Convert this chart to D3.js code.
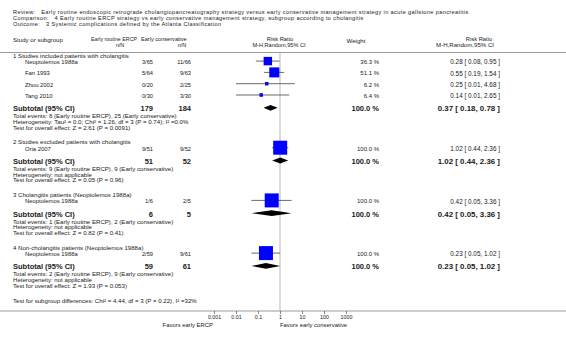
<!DOCTYPE html>
<html><head><meta charset="utf-8">
<script src="https://cdn.jsdelivr.net/npm/d3@7"></script>
<style>
html,body{margin:0;padding:0;background:#fff;}
svg{display:block;font-family:"Liberation Sans",Arial,sans-serif;}
</style></head>
<body><svg id="c" width="566" height="337"></svg>
<script>
// ---------- data ----------
const titleLines = [
  "Review:   Early routine endoscopic retrograde cholangiopancreatography strategy versus early conservative management strategy in acute gallstone pancreatitis",
  "Comparison:   4 Early routine ERCP strategy vs early conservative management strategy, subgroup according to cholangitis",
  "Outcome:   3 Systemic complications defined by the Atlanta Classification"
];
const subgroupTitles = [
  "1 Studies included patients with cholangitis",
  "2 Studies excluded patients with cholangitis",
  "3 Cholangitis patients (Neoptolemos 1988a)",
  "4 Non-cholangitis patients (Neoptolemos 1988a)"
];
const studyNames   = ["Neoptolemos 1988a","Fan 1993","Zhou 2002","Tang 2010","Oria 2007","Neoptolemos 1988a","Neoptolemos 1988a"];
const studyGroup   = [0,0,0,0,1,2,3];
const ercpEvents   = [3,5,0,0,9,1,2];
const ercpTotal    = [65,64,20,30,51,6,59];
const consEvents   = [11,9,2,3,9,2,9];
const consTotal    = [66,63,25,30,52,5,61];
const studyWeight  = [36.3,51.1,6.2,6.4,100.0,100.0,100.0];
const studyRR      = [0.28,0.55,0.25,0.14,1.02,0.42,0.23];
const studyLo      = [0.08,0.19,0.01,0.01,0.44,0.05,0.05];
const studyHi      = [0.95,1.54,4.68,2.65,2.36,3.36,1.02];

const subTotalERCP = [179,51,6,59];
const subTotalCons = [184,52,5,61];
const subRR        = [0.37,1.02,0.42,0.23];
const subLo        = [0.18,0.44,0.05,0.05];
const subHi        = [0.78,2.36,3.36,1.02];
const subEvents = [
  "Total events: 8 (Early routine ERCP), 25 (Early conservative)",
  "Total events: 9 (Early routine ERCP), 9 (Early conservative)",
  "Total events: 1 (Early routine ERCP), 2 (Early conservative)",
  "Total events: 2 (Early routine ERCP), 9 (Early conservative)"
];
const subHetero = [
  "Heterogeneity: Tau² = 0.0; Chi² = 1.26, df = 3 (P = 0.74); I² =0.0%",
  "Heterogeneity: not applicable",
  "Heterogeneity: not applicable",
  "Heterogeneity: not applicable"
];
const subOverall = [
  "Test for overall effect: Z = 2.61 (P = 0.0091)",
  "Test for overall effect: Z = 0.05 (P = 0.96)",
  "Test for overall effect: Z = 0.82 (P = 0.41)",
  "Test for overall effect: Z = 1.93 (P = 0.053)"
];
const subgroupDiff = "Test for subgroup differences: Chi² = 4.44, df = 3 (P = 0.22), I² =32%";
const tickValues = [0.001,0.01,0.1,1,10,100,1000];
const favorsLeft = "Favors early ERCP";
const favorsRight = "Favors early conservative";

// ---------- layout ----------
const svg = d3.select("#c");
const W = 566;
const x = d3.scaleLog().domain([0.001,1000]).range([214,346]);
const size = d3.scaleSqrt().domain([0,100]).range([0,14]);
const ink = "#1a1a1a";
const FS = 6.1;   // small text
const FB = 7.5;   // bold subtotal text

const rows = [];
let yy = 55.3;
subgroupTitles.forEach((t,g)=>{
  rows.push({type:"head",g,y:yy});
  yy += 6.6;
  const idx = studyNames.map((_,i)=>i).filter(i=>studyGroup[i]===g);
  idx.forEach((i,k)=>{ if(k>0) yy+=11.3; rows.push({type:"study",i,y:yy}); });
  yy += 12.8;
  rows.push({type:"sub",g,y:yy});
  yy += 7.2; rows.push({type:"line",text:subEvents[g],y:yy});
  yy += 5.7; rows.push({type:"line",text:subHetero[g],y:yy});
  yy += 5.7; rows.push({type:"line",text:subOverall[g],y:yy});
  yy += 14.7;
});
rows.push({type:"line",text:subgroupDiff,y:yy});
const axisY = 311;

function txt(xp,y,s,opt={}){
  return svg.append("text").attr("x",xp).attr("y",y).attr("dominant-baseline","central")
    .attr("font-size",opt.size||FS).attr("font-weight",opt.bold?"bold":"normal")
    .attr("text-anchor",opt.anchor||"start").attr("fill",ink).text(s);
}

// titles
titleLines.forEach((t,i)=>txt(13,[11.8,17.8,23.8][i],t,{size:5.6})
  .attr("letter-spacing",0.37).style("white-space","pre"));

// headers
txt(13,39.3,"Study or subgroup",{size:6.1});
txt(137,39.3,"Early routine ERCP",{size:5.3,anchor:"end"});
txt(141,39.3,"Early conservative",{size:5.6});
txt(120,44.5,"n/N",{size:5.6,anchor:"middle"});
txt(182,44.5,"n/N",{size:5.6,anchor:"middle"});
txt(280,39.3,"Risk Ratio",{size:5.8,anchor:"middle"});
txt(279,44.5,"M-H,Random,95% CI",{size:5.6,anchor:"middle"});
txt(356,40,"Weight",{size:6.1,anchor:"middle"});
txt(479,39.3,"Risk Ratio",{size:5.8,anchor:"middle"});
txt(494,44.5,"M-H,Random,95% CI",{size:6.1,anchor:"end"});

svg.append("line").attr("x1",0).attr("x2",W).attr("y1",52.5).attr("y2",52.5).attr("stroke","#9a9a9a").attr("stroke-width",1);

// null line
svg.append("line").attr("x1",x(1)).attr("x2",x(1)).attr("y1",53).attr("y2",axisY)
  .attr("stroke","#cfcfcf").attr("stroke-width",1.5);

const f2 = d3.format(".2f");
const ciText = (r,l,h)=>`${f2(r)} [ ${f2(l)}, ${f2(h)} ]`;

rows.forEach(r=>{
  if(r.type==="head"){
    txt(13,r.y,subgroupTitles[r.g]);
  } else if(r.type==="study"){
    const i=r.i;
    txt(25,r.y,studyNames[i],{size:5.9});
    txt(153,r.y,`${ercpEvents[i]}/${ercpTotal[i]}`,{size:5.7,anchor:"end"});
    txt(191,r.y,`${consEvents[i]}/${consTotal[i]}`,{size:5.7,anchor:"end"});
    txt(379,r.y,`${studyWeight[i].toFixed(1)} %`,{size:6.0,anchor:"end"});
    txt(500,r.y,ciText(studyRR[i],studyLo[i],studyHi[i]),{size:6.4,anchor:"end"});
    const cy=r.y-0.8, s=size(studyWeight[i]);
    svg.append("line").attr("x1",x(studyLo[i])).attr("x2",x(studyHi[i])).attr("y1",cy).attr("y2",cy)
      .attr("stroke","#444").attr("stroke-width",0.8);
    svg.append("rect").attr("x",x(studyRR[i])-s/2).attr("y",cy-s/2).attr("width",s).attr("height",s).attr("fill","#0000ff");
    svg.append("line").attr("x1",x(studyRR[i])).attr("x2",x(studyRR[i])).attr("y1",cy-1.2).attr("y2",cy+1.2)
      .attr("stroke","#333").attr("stroke-width",0.6);
  } else if(r.type==="sub"){
    const g=r.g;
    txt(13,r.y,"Subtotal (95% CI)",{size:FB,bold:true});
    txt(153,r.y,subTotalERCP[g],{size:FB,bold:true,anchor:"end"});
    txt(191,r.y,subTotalCons[g],{size:FB,bold:true,anchor:"end"});
    txt(379,r.y,"100.0 %",{size:FB,bold:true,anchor:"end"});
    txt(500,r.y,ciText(subRR[g],subLo[g],subHi[g]),{size:7.9,bold:true,anchor:"end"});
    const cy=r.y-0.8, h=2.9;
    const pts=[[x(subLo[g]),cy],[x(subRR[g]),cy-h],[x(subHi[g]),cy],[x(subRR[g]),cy+h]];
    svg.append("path").attr("d","M"+pts.join("L")+"Z").attr("fill","#000");
  } else {
    txt(13,r.y,r.text);
  }
});

// axis
svg.append("line").attr("x1",0).attr("x2",W).attr("y1",axisY).attr("y2",axisY).attr("stroke","#9a9a9a").attr("stroke-width",1);
const ax = svg.append("g").attr("transform",`translate(0,${axisY})`)
  .call(d3.axisBottom(x).tickValues(tickValues).tickFormat(d3.format("~g")).tickSize(3).tickPadding(1.5));
ax.select(".domain").remove();
ax.selectAll("line").attr("stroke","#555").attr("stroke-width",0.7);
ax.selectAll("text").attr("font-size",5.3).attr("font-family","Liberation Sans, Arial, sans-serif").attr("fill",ink);

txt(213,325,favorsLeft,{size:5.9,anchor:"end"});
txt(280,325,favorsRight,{size:5.9});
</script></body></html>
